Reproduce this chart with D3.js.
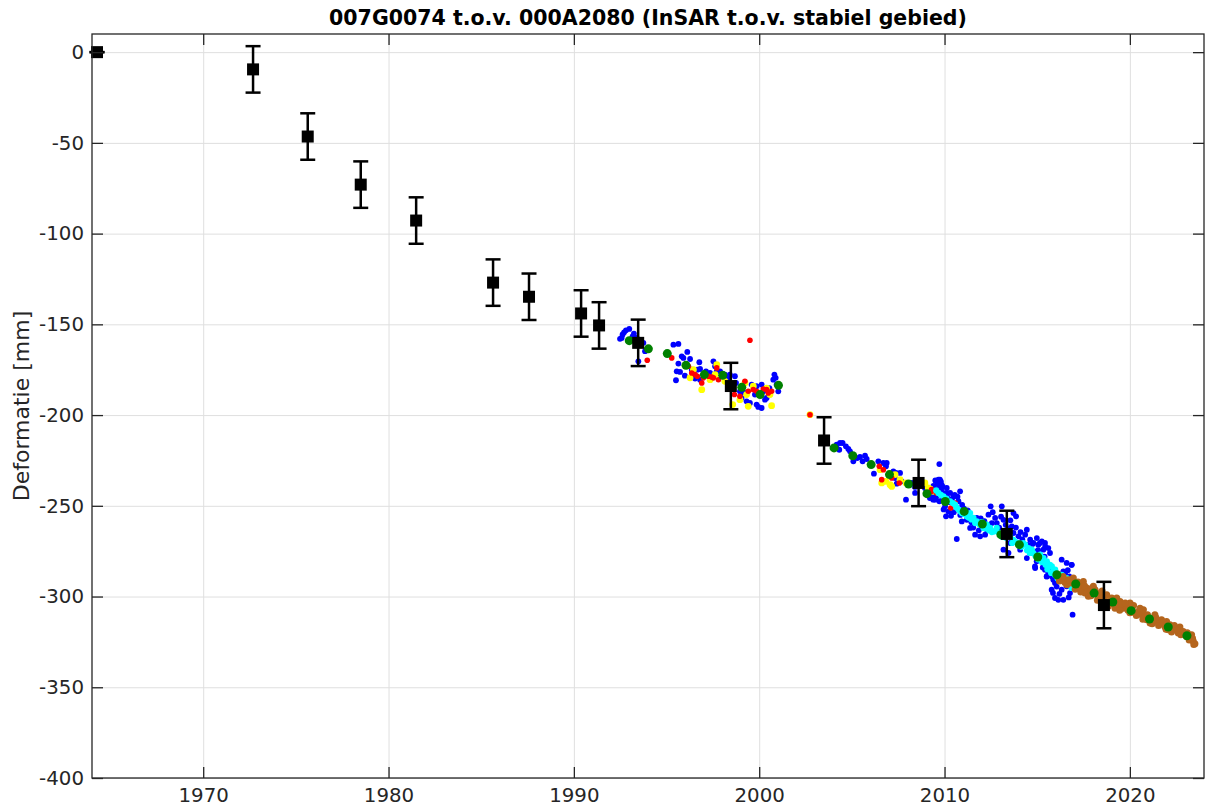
<!DOCTYPE html>
<html>
<head>
<meta charset="utf-8">
<script src="https://cdn.jsdelivr.net/npm/d3@7"></script>
<style>
  body { margin: 0; background: #fff; }
  svg { display: block; }
</style>
</head>
<body>
<svg id="chart" width="1205" height="811"></svg>
<script>
// ---- Text and ticks ----
const titleText = "007G0074 t.o.v. 000A2080 (InSAR t.o.v. stabiel gebied)";
const yLabelText = "Deformatie [mm]";
const xTicks = [1970, 1980, 1990, 2000, 2010, 2020];
const yTicks = [0, -50, -100, -150, -200, -250, -300, -350, -400];
const xDomain = [1964, 2024];
const yDomain = [-400, 10];

// ---- Levelling epochs (mm) with standard deviation ----
const levelYears  = [1964.27, 1972.69, 1975.64, 1978.50, 1981.49, 1985.64, 1987.58, 1990.39, 1991.36, 1993.47, 1998.47, 2003.50, 2008.60, 2013.36, 2018.60];
const levelValues = [0, -9.5, -46.5, -73.0, -92.8, -127.0, -134.8, -144.0, -150.6, -160.2, -184.0, -214.0, -237.4, -265.5, -304.7];
const levelErrors = [0, 12.8, 12.8, 12.8, 12.8, 12.8, 12.8, 12.8, 12.8, 12.8, 12.8, 12.8, 12.8, 12.8, 12.8];

// ---- InSAR point series [year, mm] ----
const insarBlue = [
  [1992.49,-158.0],[1992.58,-157.5],[1992.63,-155.6],[1992.71,-154.4],[1992.81,-153.3],[1992.99,-152.5],
  [1993.17,-156.6],[1993.24,-155.1],[1993.39,-157.5],[1993.75,-160.2],[1993.84,-164.8],[1993.48,-170.4],
  [1995.37,-161.2],[1995.64,-160.8],[1995.82,-167.6],[1995.91,-168.5],[1996.12,-165.2],[1996.27,-169.1],
  [1995.64,-171.6],[1995.55,-175.9],[1995.73,-176.2],[1995.51,-180.8],[1995.99,-178.3],[1996.36,-175.0],
  [1996.45,-177.7],[1996.77,-170.9],[1996.66,-175.0],[1996.81,-174.6],[1996.54,-179.9],[1996.81,-180.5],
  [1997.13,-175.9],[1997.35,-176.8],[1997.53,-170.4],[1997.62,-173.1],[1997.71,-175.9],[1997.89,-175.9],
  [1998.15,-177.7],[1998.33,-179.5],[1998.42,-177.7],[1998.69,-178.6],[1998.75,-182.3],[1998.96,-186.9],
  [1999.14,-187.4],[1999.32,-187.8],[1999.59,-183.2],[1999.86,-184.1],[1999.77,-188.7],[2000.13,-183.2],
  [2000.22,-186.9],[2000.31,-191.5],[2000.40,-190.6],[2000.55,-185.1],[2000.76,-180.5],[2000.82,-177.7],
  [2000.89,-179.5],[2000.94,-183.2],[2001.03,-186.9],[1999.32,-192.4],[1999.50,-193.3],[1999.86,-194.2],
  [1999.95,-195.5],[2000.13,-196.1],[1999.05,-190.6],
  [2004.18,-216.3],[2004.36,-215.4],[2004.50,-215.4],[2004.68,-217.2],[2004.81,-218.7],[2004.90,-220.0],
  [2004.32,-219.1],[2005.08,-225.5],[2005.29,-223.7],[2005.44,-223.1],[2005.58,-225.5],[2005.71,-222.4],
  [2005.80,-224.2],[2006.19,-232.3],[2006.43,-225.5],[2006.70,-226.4],[2006.88,-226.4],[2006.84,-228.2],
  [2007.24,-231.0],[2007.38,-231.9],[2007.60,-231.9],[2007.33,-234.7],[2007.42,-237.8],[2007.69,-236.5],
  [2007.92,-246.6],[2008.23,-237.4],[2008.41,-239.6],[2008.41,-242.9],[2008.94,-240.2],[2009.30,-241.1],
  [2009.72,-227.0],[2009.75,-235.6],[2009.84,-238.4],[2009.57,-244.8],[2009.39,-246.6],[2009.21,-245.7],
  [2009.72,-247.5],[2009.93,-246.6],[2010.11,-242.9],
  [2009.67,-235.6],[2009.76,-238.4],[2009.58,-241.1],[2009.85,-242.0],[2010.12,-240.2],[2010.30,-242.9],
  [2010.48,-244.8],[2010.84,-242.0],[2010.75,-247.5],[2010.03,-250.3],[2010.21,-253.1],[2010.08,-255.8],
  [2010.66,-251.2],[2009.94,-246.6],[2009.49,-246.6],[2009.36,-243.9],[2010.93,-258.6],[2011.20,-257.7],
  [2011.38,-262.2],[2010.66,-268.3],[2011.74,-256.7],[2012.02,-261.3],[2011.65,-265.9],[2011.92,-266.8],
  [2012.19,-265.9],[2012.49,-250.3],[2012.37,-254.9],[2012.73,-256.7],[2012.82,-259.5],[2013.09,-250.3],
  [2013.18,-257.7],[2013.72,-254.0],[2013.86,-255.8],[2013.63,-261.3],[2013.72,-265.0],[2013.99,-266.8],
  [2013.54,-270.5],[2014.44,-263.2],[2014.35,-265.9],[2014.62,-268.7],[2014.98,-267.8],[2015.25,-269.6],
  [2015.43,-272.4],[2014.98,-275.1],[2014.62,-276.0],[2014.44,-278.8],[2014.89,-284.3],[2015.52,-281.5],
  [2015.69,-285.2],[2016.32,-279.7],[2016.59,-281.5],[2016.86,-282.5],[2016.50,-287.1],[2015.52,-288.9],
  [2014.08,-274.2],[2013.45,-276.0],[2013.18,-274.2],
  [2014.79,-270.5],[2015.06,-271.4],[2015.15,-270.5],[2015.42,-270.5],[2015.60,-273.3],[2015.69,-276.0],
  [2015.33,-274.2],[2014.88,-283.4],[2014.97,-280.6],[2015.42,-285.2],[2015.51,-288.9],[2015.69,-284.3],
  [2015.87,-290.7],[2015.96,-292.6],[2015.78,-296.2],[2015.96,-300.8],[2016.14,-301.8],[2016.41,-301.8],
  [2016.32,-296.2],[2016.59,-294.4],[2016.77,-298.1],[2016.86,-282.5],[2016.41,-286.1],[2016.73,-288.9],
  [2016.23,-290.7],[2016.91,-310.0],
  [2009.50,-236.0],[2009.40,-239.0],[2009.60,-238.0],[2009.70,-240.5],[2009.80,-236.5],[2009.90,-239.5],
  [2010.00,-243.5],[2010.15,-245.5],[2010.25,-248.0],[2010.40,-246.5],[2010.55,-244.0],[2010.70,-245.0],
  [2010.95,-249.5],[2010.10,-248.0],[2009.95,-252.0],[2010.35,-255.5],[2010.50,-253.5],[2010.85,-255.0],
  [2011.05,-251.5],[2011.25,-252.5],[2011.45,-259.0],[2011.55,-262.0],[2011.85,-263.5],[2011.95,-257.0],
  [2012.15,-258.5],[2012.30,-263.5],[2012.55,-259.5],[2012.60,-253.5],[2012.95,-262.0],[2013.05,-256.0],
  [2013.30,-260.5],[2013.45,-262.5],[2013.55,-258.0],[2013.85,-262.0],[2014.10,-264.5],[2014.20,-268.5],
  [2014.50,-271.5],[2014.75,-271.0],[2015.05,-274.5],[2015.20,-277.5],[2015.40,-278.0],[2015.30,-284.0],
  [2015.60,-287.0],[2015.80,-289.0],[2016.05,-294.5],[2016.20,-298.5],[2015.85,-298.0],[2016.50,-291.0],
  [2016.65,-285.5],[2016.70,-300.5]
];

const insarYellow = [
  [1996.27,-179.5],[1996.90,-186.0],[1997.71,-172.2],[1997.62,-177.7],[1999.23,-182.3],[1999.32,-188.7],
  [1999.68,-184.1],[1998.96,-191.5],[1999.41,-195.2],[2000.67,-194.8],[2000.58,-188.7],[2000.40,-185.1],
  [1998.57,-194.2],[1998.15,-181.4],[1997.35,-180.5],[1996.45,-175.0],
  [2002.74,-199.8],
  [2006.52,-230.1],[2006.61,-237.4],[2006.84,-236.5],[2007.06,-238.4],[2007.15,-239.3],[2007.33,-232.8],
  [2007.60,-235.6],[2007.92,-237.4],[2008.94,-237.4],[2009.12,-240.2],[2009.39,-242.0],[2009.22,-240.7]
];

const insarRed = [
  [1993.96,-169.8],
  [1995.28,-168.5],[1996.18,-173.1],[1996.36,-176.8],[1996.54,-177.7],[1996.66,-178.6],[1996.90,-182.3],
  [1996.99,-179.5],[1997.26,-178.6],[1997.44,-179.0],[1997.71,-174.0],[1997.80,-180.5],[1997.53,-179.5],
  [1999.23,-181.4],[1999.41,-186.9],[1999.68,-186.0],[1999.86,-186.9],[2000.22,-185.6],[2000.40,-186.0],
  [2000.49,-187.8],[2000.67,-186.9],[1998.96,-189.6],[1998.66,-188.7],[1999.50,-158.8],
  [2002.74,-199.8],
  [2006.48,-228.2],[2006.61,-235.6],[2006.70,-230.1],[2007.15,-234.7],[2007.56,-237.4],[2009.30,-241.1],
  [2009.57,-242.9],[2009.31,-242.0],[2010.34,-251.2],[2010.57,-248.5]
];

const insarCyan = [
  [2009.67,-242.9],[2009.94,-244.8],[2010.30,-247.5],[2010.57,-249.4],[2010.75,-252.1],[2010.93,-254.0],
  [2011.20,-255.8],[2011.38,-254.0],[2011.56,-256.7],[2011.74,-258.6],[2012.10,-262.2],[2012.28,-260.4],
  [2012.46,-262.2],[2012.64,-264.1],[2012.82,-262.2],[2013.18,-265.9],[2013.54,-266.8],[2013.72,-268.7],
  [2013.99,-270.5],[2014.35,-271.4],[2014.53,-273.3],[2014.71,-274.2],[2014.79,-276.0],[2014.97,-277.9],
  [2015.16,-276.9],[2015.34,-278.8],[2015.33,-280.6],[2015.52,-280.6],[2015.60,-283.0],[2015.69,-282.5],
  [2015.79,-283.4],[2015.87,-286.1],[2015.97,-285.2],[2016.32,-288.0],[2016.59,-289.8],[2016.77,-292.6],
  [2016.86,-295.3],
  [2009.55,-241.5],[2009.80,-244.0],[2010.10,-246.0],[2010.45,-248.5],[2010.65,-251.0],[2010.85,-253.0],
  [2011.05,-254.5],[2011.30,-256.5],[2011.45,-257.5],[2011.65,-259.5],[2011.90,-260.5],[2012.00,-259.0],
  [2012.20,-262.5],[2012.40,-263.5],[2012.55,-264.5],[2012.75,-264.0],[2012.95,-265.0],[2013.10,-267.0],
  [2013.30,-267.5],[2013.65,-270.5],[2013.85,-270.0],[2014.15,-272.5],[2014.25,-270.5],[2014.45,-274.5],
  [2014.60,-276.0],[2014.90,-277.5],[2015.05,-279.5],[2015.25,-281.0],[2015.45,-282.5],[2015.55,-285.0],
  [2015.75,-287.0],[2015.95,-288.0],[2016.10,-290.0],[2016.45,-291.5],[2016.65,-293.5]
];

const insarBrown = [
  [2016.14,-289.3],[2016.32,-290.7],[2016.50,-292.2],[2016.68,-290.7],[2016.86,-292.6],[2016.95,-289.8],
  [2017.13,-294.4],[2017.31,-293.5],[2017.40,-296.2],[2017.49,-291.7],[2017.58,-298.1],[2017.67,-295.3],
  [2017.76,-299.9],[2017.85,-297.2],[2018.03,-294.4],[2018.12,-296.2],[2018.30,-300.8],[2018.39,-299.0],
  [2018.57,-299.9],[2018.75,-299.0],[2018.84,-302.7],[2018.84,-305.4],[2019.02,-300.8],[2019.20,-303.6],
  [2019.20,-306.4],[2019.29,-300.8],[2019.38,-304.5],[2019.47,-302.7],[2019.65,-306.4],[2019.83,-305.4],
  [2020.01,-303.6],[2020.10,-306.4],[2020.28,-309.1],[2020.46,-308.2],[2020.64,-310.0],[2020.73,-307.3],
  [2020.82,-311.0],[2020.91,-312.8],[2021.09,-314.6],[2021.27,-311.9],[2021.35,-310.0],[2021.44,-313.7],
  [2021.62,-314.6],[2021.71,-312.8],[2021.89,-316.5],[2021.98,-313.7],[2022.07,-318.3],[2022.16,-315.5],
  [2022.34,-318.3],[2022.52,-317.4],[2022.61,-320.1],[2022.70,-316.8],[2022.88,-319.2],[2023.06,-322.0],
  [2023.24,-322.9],[2023.33,-321.1],[2023.42,-324.7],[2023.51,-326.0],
  [2016.20,-291.5],[2016.40,-289.0],[2016.60,-293.5],[2016.75,-291.0],[2017.00,-293.0],[2017.05,-296.0],
  [2017.20,-292.0],[2017.35,-297.5],[2017.55,-294.0],[2017.70,-297.5],[2017.90,-299.5],[2017.95,-295.5],
  [2018.20,-298.0],[2018.25,-302.0],[2018.45,-301.5],[2018.50,-297.0],[2018.65,-302.5],[2018.95,-304.0],
  [2019.10,-302.0],[2019.30,-305.0],[2019.45,-307.5],[2019.55,-304.0],[2019.75,-303.5],[2019.90,-307.5],
  [2020.00,-309.0],[2020.20,-305.0],[2020.35,-310.5],[2020.55,-306.5],[2020.70,-312.5],[2020.95,-310.0],
  [2021.05,-312.0],[2021.20,-315.0],[2021.40,-311.5],[2021.55,-316.0],[2021.80,-314.0],[2021.95,-318.0],
  [2022.10,-316.5],[2022.25,-319.5],[2022.40,-316.0],[2022.55,-318.5],[2022.75,-321.0],[2022.95,-320.5],
  [2023.10,-320.0],[2023.20,-324.0],[2023.38,-323.0],[2023.45,-326.5]
];

// Yearly averages of the InSAR series
const insarYearly = [
  [1992.99,-159.0],[1994.02,-163.5],[1995.04,-166.1],[1996.05,-172.6],[1997.04,-177.7],[1998.03,-178.1],
  [1999.06,-184.7],[2000.05,-188.7],[2001.04,-183.6],
  [2004.04,-218.1],[2005.05,-222.4],[2006.04,-227.3],[2007.03,-232.8],[2008.06,-238.0],[2009.05,-243.3],
  [2010.04,-247.6],[2011.06,-253.1],[2012.04,-260.0],[2013.04,-265.9],[2014.04,-271.4],[2015.03,-278.2],
  [2016.06,-288.0],[2017.08,-293.1],[2018.07,-298.1],[2019.08,-303.0],[2020.07,-307.8],[2021.06,-312.4],
  [2022.07,-316.8],[2023.08,-321.6]
];

// ---- Layout ----
const plot = { left: 92, top: 34, right: 1204, bottom: 778 };
const axisColor = "#262626";
const tickFont = "'DejaVu Sans', Verdana, sans-serif";

const svg = d3.select("#chart");
const x = d3.scaleLinear().domain(xDomain).range([plot.left, plot.right]);
const y = d3.scaleLinear().domain(yDomain).range([plot.bottom, plot.top]);
const W = plot.right - plot.left, H = plot.bottom - plot.top;
const plainNumber = d => String(d);

// Grid lines
const grid = svg.append("g").attr("class", "grid");
grid.append("g")
  .attr("transform", `translate(0,${plot.bottom})`)
  .call(d3.axisBottom(x).tickValues(xTicks).tickSize(-H).tickFormat(""))
  .call(g => g.select(".domain").remove())
  .selectAll("line").attr("stroke", "#dfdfdf").attr("stroke-width", 1);
grid.append("g")
  .attr("transform", `translate(${plot.left},0)`)
  .call(d3.axisLeft(y).tickValues(yTicks).tickSize(-W).tickFormat(""))
  .call(g => g.select(".domain").remove())
  .selectAll("line").attr("stroke", "#dfdfdf").attr("stroke-width", 1);

// Scatter series
function dots(data, color, r) {
  svg.append("g").selectAll("circle").data(data).join("circle")
    .attr("cx", d => x(d[0])).attr("cy", d => y(d[1]))
    .attr("r", r).attr("fill", color);
}
dots(insarBlue, "#0000ff", 2.9);
dots(insarYellow, "#ffff00", 3.4);
dots(insarRed, "#ff0000", 2.8);
dots(insarCyan, "#00ffff", 3.1);
dots(insarBrown, "#b5651d", 3.5);
dots(insarYearly, "#008000", 4.5);

// Levelling with error bars
const level = levelYears.map((t, i) => ({ t, v: levelValues[i], e: levelErrors[i] }));
const lv = svg.append("g");
const capHalf = 7.5;
lv.selectAll("line.bar").data(level).join("line").attr("class", "bar")
  .attr("x1", d => x(d.t)).attr("x2", d => x(d.t))
  .attr("y1", d => y(d.v + d.e)).attr("y2", d => y(d.v - d.e))
  .attr("stroke", "#000").attr("stroke-width", 2.5);
lv.selectAll("line.capTop").data(level).join("line").attr("class", "capTop")
  .attr("x1", d => x(d.t) - capHalf).attr("x2", d => x(d.t) + capHalf)
  .attr("y1", d => y(d.v + d.e)).attr("y2", d => y(d.v + d.e))
  .attr("stroke", "#000").attr("stroke-width", 2.5);
lv.selectAll("line.capBot").data(level).join("line").attr("class", "capBot")
  .attr("x1", d => x(d.t) - capHalf).attr("x2", d => x(d.t) + capHalf)
  .attr("y1", d => y(d.v - d.e)).attr("y2", d => y(d.v - d.e))
  .attr("stroke", "#000").attr("stroke-width", 2.5);
lv.selectAll("rect").data(level).join("rect")
  .attr("x", d => x(d.t) - 6).attr("y", d => y(d.v) - 6)
  .attr("width", 12).attr("height", 12).attr("fill", "#000");

// Axes (ticks point inward, box on all sides)
function styleAxis(g) {
  g.select(".domain").remove();
  g.selectAll(".tick line").attr("stroke", axisColor).attr("stroke-width", 1.3);
  g.selectAll(".tick text").attr("fill", axisColor)
    .style("font-family", tickFont).style("font-size", "19.8px");
}
svg.append("g").attr("transform", `translate(0,${plot.bottom})`)
  .call(d3.axisBottom(x).tickValues(xTicks).tickSize(-11).tickPadding(10).tickFormat(plainNumber))
  .call(styleAxis);
svg.append("g").attr("transform", `translate(0,${plot.top})`)
  .call(d3.axisTop(x).tickValues(xTicks).tickSize(-11).tickFormat(""))
  .call(styleAxis);
svg.append("g").attr("transform", `translate(${plot.left},0)`)
  .call(d3.axisLeft(y).tickValues(yTicks).tickSize(-11).tickPadding(8).tickFormat(plainNumber))
  .call(styleAxis);
svg.append("g").attr("transform", `translate(${plot.right},0)`)
  .call(d3.axisRight(y).tickValues(yTicks).tickSize(-11).tickFormat(""))
  .call(styleAxis);

svg.append("rect")
  .attr("x", plot.left).attr("y", plot.top).attr("width", W).attr("height", H)
  .attr("fill", "none").attr("stroke", axisColor).attr("stroke-width", 1.3);

// Title and axis label
svg.append("text")
  .attr("x", (plot.left + plot.right) / 2).attr("y", 25)
  .attr("text-anchor", "middle")
  .style("font-family", tickFont).style("font-size", "20.5px").style("font-weight", "bold")
  .attr("fill", "#000")
  .text(titleText);

svg.append("text")
  .attr("transform", `translate(29,${(plot.top + plot.bottom) / 2}) rotate(-90)`)
  .attr("text-anchor", "middle")
  .style("font-family", tickFont).style("font-size", "22px")
  .attr("fill", axisColor)
  .text(yLabelText);
</script>
</body>
</html>
